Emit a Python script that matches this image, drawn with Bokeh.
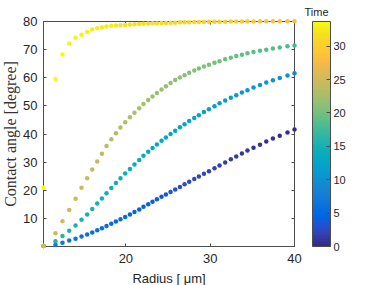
import numpy as np
from bokeh.plotting import figure
from bokeh.models import (ColumnDataSource, LinearColorMapper, ColorBar, FixedTicker,
                          LinearAxis, Range1d, CustomJSTickFormatter, Title)
from bokeh.embed import file_html
from bokeh.resources import INLINE

# ---------------- data ----------------
radius = [10.23, 11.65, 12.48, 13.28, 14.03, 14.74, 15.41, 16.01, 16.60, 17.16,
          17.70, 18.27, 18.82, 19.36, 19.92, 20.48, 21.02, 21.58, 22.09, 22.65,
          23.16, 23.68, 24.23, 24.75, 25.30, 25.85, 26.41, 26.96, 27.51, 28.11,
          28.66, 29.26, 29.85, 30.51, 31.11, 31.78, 32.45, 33.09, 33.76, 34.42,
          35.14, 35.91, 36.65, 37.44, 38.25, 39.17, 40.00]

angle_a = [0.2, 0.6, 1.3, 2.1, 2.8, 3.6, 4.3, 5.0, 5.8, 6.5,
           7.3, 8.1, 8.9, 9.7, 10.5, 11.4, 12.3, 13.2, 14.1, 15.0,
           15.9, 16.8, 17.7, 18.5, 19.4, 20.3, 21.2, 22.1, 23.0, 24.0,
           24.9, 25.9, 26.8, 27.8, 28.8, 29.9, 31.0, 32.0, 33.1, 34.1,
           35.1, 36.2, 37.3, 38.4, 39.4, 40.5, 41.6]

angle_b = [0.2, 1.9, 3.7, 5.6, 7.5, 9.5, 11.4, 13.3, 15.3, 17.1,
           18.9, 20.8, 22.6, 24.3, 26.0, 27.6, 29.2, 30.8, 32.3, 33.7,
           35.0, 36.3, 37.6, 38.8, 40.0, 41.2, 42.4, 43.5, 44.6, 45.7,
           46.7, 47.8, 48.8, 49.9, 50.9, 51.9, 52.9, 53.8, 54.8, 55.6,
           56.5, 57.4, 58.3, 59.1, 59.9, 60.8, 61.6]

angle_c = [0.2, 4.7, 9.0, 13.0, 17.0, 20.9, 24.3, 27.4, 30.2, 33.0,
           35.7, 38.1, 40.3, 42.3, 44.2, 46.0, 47.6, 49.2, 50.7, 52.1,
           53.3, 54.6, 55.8, 57.0, 58.1, 59.2, 60.1, 60.9, 61.8, 62.6,
           63.3, 64.0, 64.6, 65.3, 65.9, 66.6, 67.1, 67.7, 68.2, 68.7,
           69.2, 69.6, 70.0, 70.4, 70.8, 71.2, 71.5]

angle_d = [20.9, 59.6, 68.3, 72.2, 74.2, 75.3, 76.3, 77.2, 77.6, 77.9,
           78.2, 78.5, 78.6, 78.7, 78.8, 78.9, 79.0, 79.1, 79.2, 79.3,
           79.4, 79.4, 79.5, 79.5, 79.6, 79.6, 79.7, 79.7, 79.7, 79.8,
           79.8, 79.8, 79.9, 79.9, 79.9, 79.9, 80.0, 80.0, 80.0, 80.0,
           80.0, 80.1, 80.1, 80.1, 80.1, 80.1, 80.1]

time_a = [7.0, 6.8, 6.7, 6.5, 6.4, 6.2, 6.1, 5.9, 5.8, 5.6,
          5.5, 5.3, 5.2, 5.0, 4.9, 4.7, 4.6, 4.4, 4.3, 4.1,
          4.0, 3.8, 3.7, 3.5, 3.3, 3.2, 3.0, 2.9, 2.7, 2.6,
          2.4, 2.3, 2.1, 2.0, 1.8, 1.7, 1.5, 1.4, 1.2, 1.1,
          0.9, 0.8, 0.6, 0.5, 0.3, 0.2, 0.0]

time_b = [16.0, 15.9, 15.7, 15.6, 15.5, 15.3, 15.2, 15.1, 14.9, 14.8,
          14.7, 14.5, 14.4, 14.2, 14.1, 14.0, 13.8, 13.7, 13.6, 13.4,
          13.3, 13.2, 13.0, 12.9, 12.8, 12.6, 12.5, 12.4, 12.2, 12.1,
          11.9, 11.8, 11.7, 11.5, 11.4, 11.3, 11.1, 11.0, 10.9, 10.7,
          10.6, 10.5, 10.3, 10.2, 10.1, 9.9, 9.8]

time_c = [25.2, 25.0, 24.9, 24.7, 24.6, 24.4, 24.3, 24.1, 23.9, 23.8,
          23.6, 23.5, 23.3, 23.2, 23.0, 22.9, 22.7, 22.5, 22.4, 22.2,
          22.1, 21.9, 21.8, 21.6, 21.4, 21.3, 21.1, 21.0, 20.8, 20.7,
          20.5, 20.4, 20.2, 20.0, 19.9, 19.7, 19.6, 19.4, 19.3, 19.1,
          18.9, 18.8, 18.6, 18.5, 18.3, 18.2, 18.0]

time_d = [33.7, 33.6, 33.5, 33.3, 33.2, 33.1, 33.0, 32.9, 32.8, 32.6,
          32.5, 32.4, 32.3, 32.2, 32.1, 31.9, 31.8, 31.7, 31.6, 31.5,
          31.4, 31.2, 31.1, 31.0, 30.9, 30.8, 30.7, 30.5, 30.4, 30.3,
          30.2, 30.1, 29.9, 29.8, 29.7, 29.6, 29.5, 29.4, 29.2, 29.1,
          29.0, 28.9, 28.8, 28.7, 28.5, 28.4, 28.3]

x_ticks = [20, 30, 40]
y_ticks = [10, 20, 30, 40, 50, 60, 70, 80]
cb_ticks = [0, 5, 10, 15, 20, 25, 30]
time_max = 33.7

# ---------------- parula colormap ----------------
parula64 = [
    (0.2081, 0.1663, 0.5292), (0.2116, 0.1898, 0.5777), (0.2123, 0.2138, 0.6270), (0.2081, 0.2386, 0.6771),
    (0.1959, 0.2645, 0.7279), (0.1707, 0.2919, 0.7792), (0.1253, 0.3242, 0.8303), (0.0591, 0.3598, 0.8683),
    (0.0117, 0.3875, 0.8820), (0.0060, 0.4086, 0.8828), (0.0165, 0.4266, 0.8786), (0.0329, 0.4430, 0.8720),
    (0.0498, 0.4586, 0.8641), (0.0629, 0.4737, 0.8554), (0.0723, 0.4887, 0.8467), (0.0779, 0.5040, 0.8384),
    (0.0793, 0.5200, 0.8312), (0.0749, 0.5375, 0.8263), (0.0641, 0.5570, 0.8240), (0.0488, 0.5772, 0.8228),
    (0.0343, 0.5966, 0.8199), (0.0265, 0.6137, 0.8135), (0.0239, 0.6287, 0.8038), (0.0231, 0.6418, 0.7913),
    (0.0228, 0.6535, 0.7768), (0.0267, 0.6642, 0.7607), (0.0384, 0.6743, 0.7436), (0.0590, 0.6838, 0.7254),
    (0.0843, 0.6928, 0.7062), (0.1133, 0.7015, 0.6859), (0.1453, 0.7098, 0.6646), (0.1801, 0.7177, 0.6424),
    (0.2178, 0.7250, 0.6193), (0.2586, 0.7317, 0.5954), (0.3022, 0.7376, 0.5712), (0.3482, 0.7424, 0.5473),
    (0.3953, 0.7459, 0.5244), (0.4420, 0.7481, 0.5033), (0.4871, 0.7491, 0.4840), (0.5300, 0.7491, 0.4661),
    (0.5709, 0.7485, 0.4494), (0.6099, 0.7473, 0.4337), (0.6473, 0.7456, 0.4188), (0.6834, 0.7435, 0.4044),
    (0.7184, 0.7411, 0.3905), (0.7525, 0.7384, 0.3768), (0.7858, 0.7356, 0.3633), (0.8185, 0.7327, 0.3498),
    (0.8507, 0.7299, 0.3360), (0.8824, 0.7274, 0.3217), (0.9139, 0.7258, 0.3063), (0.9450, 0.7261, 0.2886),
    (0.9739, 0.7314, 0.2666), (0.9938, 0.7455, 0.2403), (0.9990, 0.7653, 0.2164), (0.9955, 0.7861, 0.1967),
    (0.9880, 0.8066, 0.1794), (0.9789, 0.8271, 0.1633), (0.9697, 0.8481, 0.1475), (0.9626, 0.8705, 0.1309),
    (0.9589, 0.8949, 0.1132), (0.9598, 0.9218, 0.0948), (0.9661, 0.9514, 0.0755), (0.9763, 0.9831, 0.0538)]
arr = np.array(parula64)
pos = np.linspace(0, 1, len(arr))
fine = np.linspace(0, 1, 256)
palette = []
for f in fine:
    rgb = [np.interp(f, pos, arr[:, k]) for k in range(3)]
    palette.append("#%02x%02x%02x" % tuple(int(round(c * 255)) for c in rgb))

mapper = LinearColorMapper(palette=palette, low=0, high=time_max)

# ---------------- figure ----------------
AX = "#4d4d4d"
TXT = "#262626"
FONT = "Liberation Sans"

p = figure(frame_width=251, frame_height=225,
           x_range=Range1d(10.23, 40), y_range=Range1d(0, 80),
           output_backend="svg", toolbar_location=None,
           min_border_left=43, min_border_top=21, min_border_right=85, min_border_bottom=39)
p.grid.visible = False
p.outline_line_color = AX
p.background_fill_color = "white"
p.border_fill_color = "white"

p.xaxis.ticker = FixedTicker(ticks=x_ticks)
p.yaxis.ticker = FixedTicker(ticks=y_ticks)
for ax in (p.xaxis[0], p.yaxis[0]):
    ax.axis_line_color = AX
    ax.major_tick_line_color = AX
    ax.major_tick_in = 3
    ax.major_tick_out = 0
    ax.minor_tick_line_color = None
    ax.major_label_text_font = FONT
    ax.major_label_text_font_size = "13px"
    ax.major_label_text_color = TXT

p.xaxis.major_label_standoff = 7
p.xaxis.axis_label = "Radius [ μm]"
p.xaxis.axis_label_text_font = FONT
p.xaxis.axis_label_text_font_size = "13px"
p.xaxis.axis_label_text_font_style = "normal"
p.xaxis.axis_label_text_color = TXT
p.xaxis.axis_label_standoff = 5

p.yaxis.major_label_standoff = 6

blank = CustomJSTickFormatter(code="return ''")
top_ax = LinearAxis(ticker=FixedTicker(ticks=x_ticks), formatter=blank,
                    major_label_text_font_size="1px",
                    major_label_standoff=0, major_tick_in=3, major_tick_out=0,
                    minor_tick_line_color=None, axis_line_color=AX, major_tick_line_color=AX)
p.add_layout(top_ax, "above")
right_ax = LinearAxis(ticker=FixedTicker(ticks=y_ticks), formatter=blank,
                      major_label_text_font_size="1px",
                      major_label_standoff=0, major_tick_in=3, major_tick_out=0,
                      minor_tick_line_color=None, axis_line_color=AX, major_tick_line_color=AX)
p.add_layout(right_ax, "right")

# y-axis title (LaTeX-like serif) and colour-bar title
p.add_layout(Title(text="Contact angle [degree]", align="center", vertical_align="top",
                   text_font="Liberation Serif", text_font_size="16px",
                   text_font_style="normal", text_color="#333333", standoff=0), "left")
p.add_layout(Title(text="Time", align="left", offset=261,
                   text_font=FONT, text_font_size="11px",
                   text_font_style="normal", text_color=TXT, standoff=7), "above")

src = ColumnDataSource(dict(
    r=radius * 4,
    a=angle_a + angle_b + angle_c + angle_d,
    t=time_a + time_b + time_c + time_d,
))
p.scatter("r", "a", source=src, size=4.5, marker="circle",
          fill_color={"field": "t", "transform": mapper}, line_color=None, level="overlay")

cb = ColorBar(color_mapper=mapper, location=(269, 0), width=18, height=225,
              padding=0, margin=0, ticker=FixedTicker(ticks=cb_ticks),
              major_tick_in=4, major_tick_out=0, major_tick_line_color=AX,
              minor_tick_line_color=None,
              major_label_text_font=FONT, major_label_text_font_size="11px",
              major_label_text_color=TXT, label_standoff=3,
              bar_line_color=AX, border_line_color=None, background_fill_color=None)
p.add_layout(cb, "center")

open("out.html", "w").write(file_html(p, INLINE))
